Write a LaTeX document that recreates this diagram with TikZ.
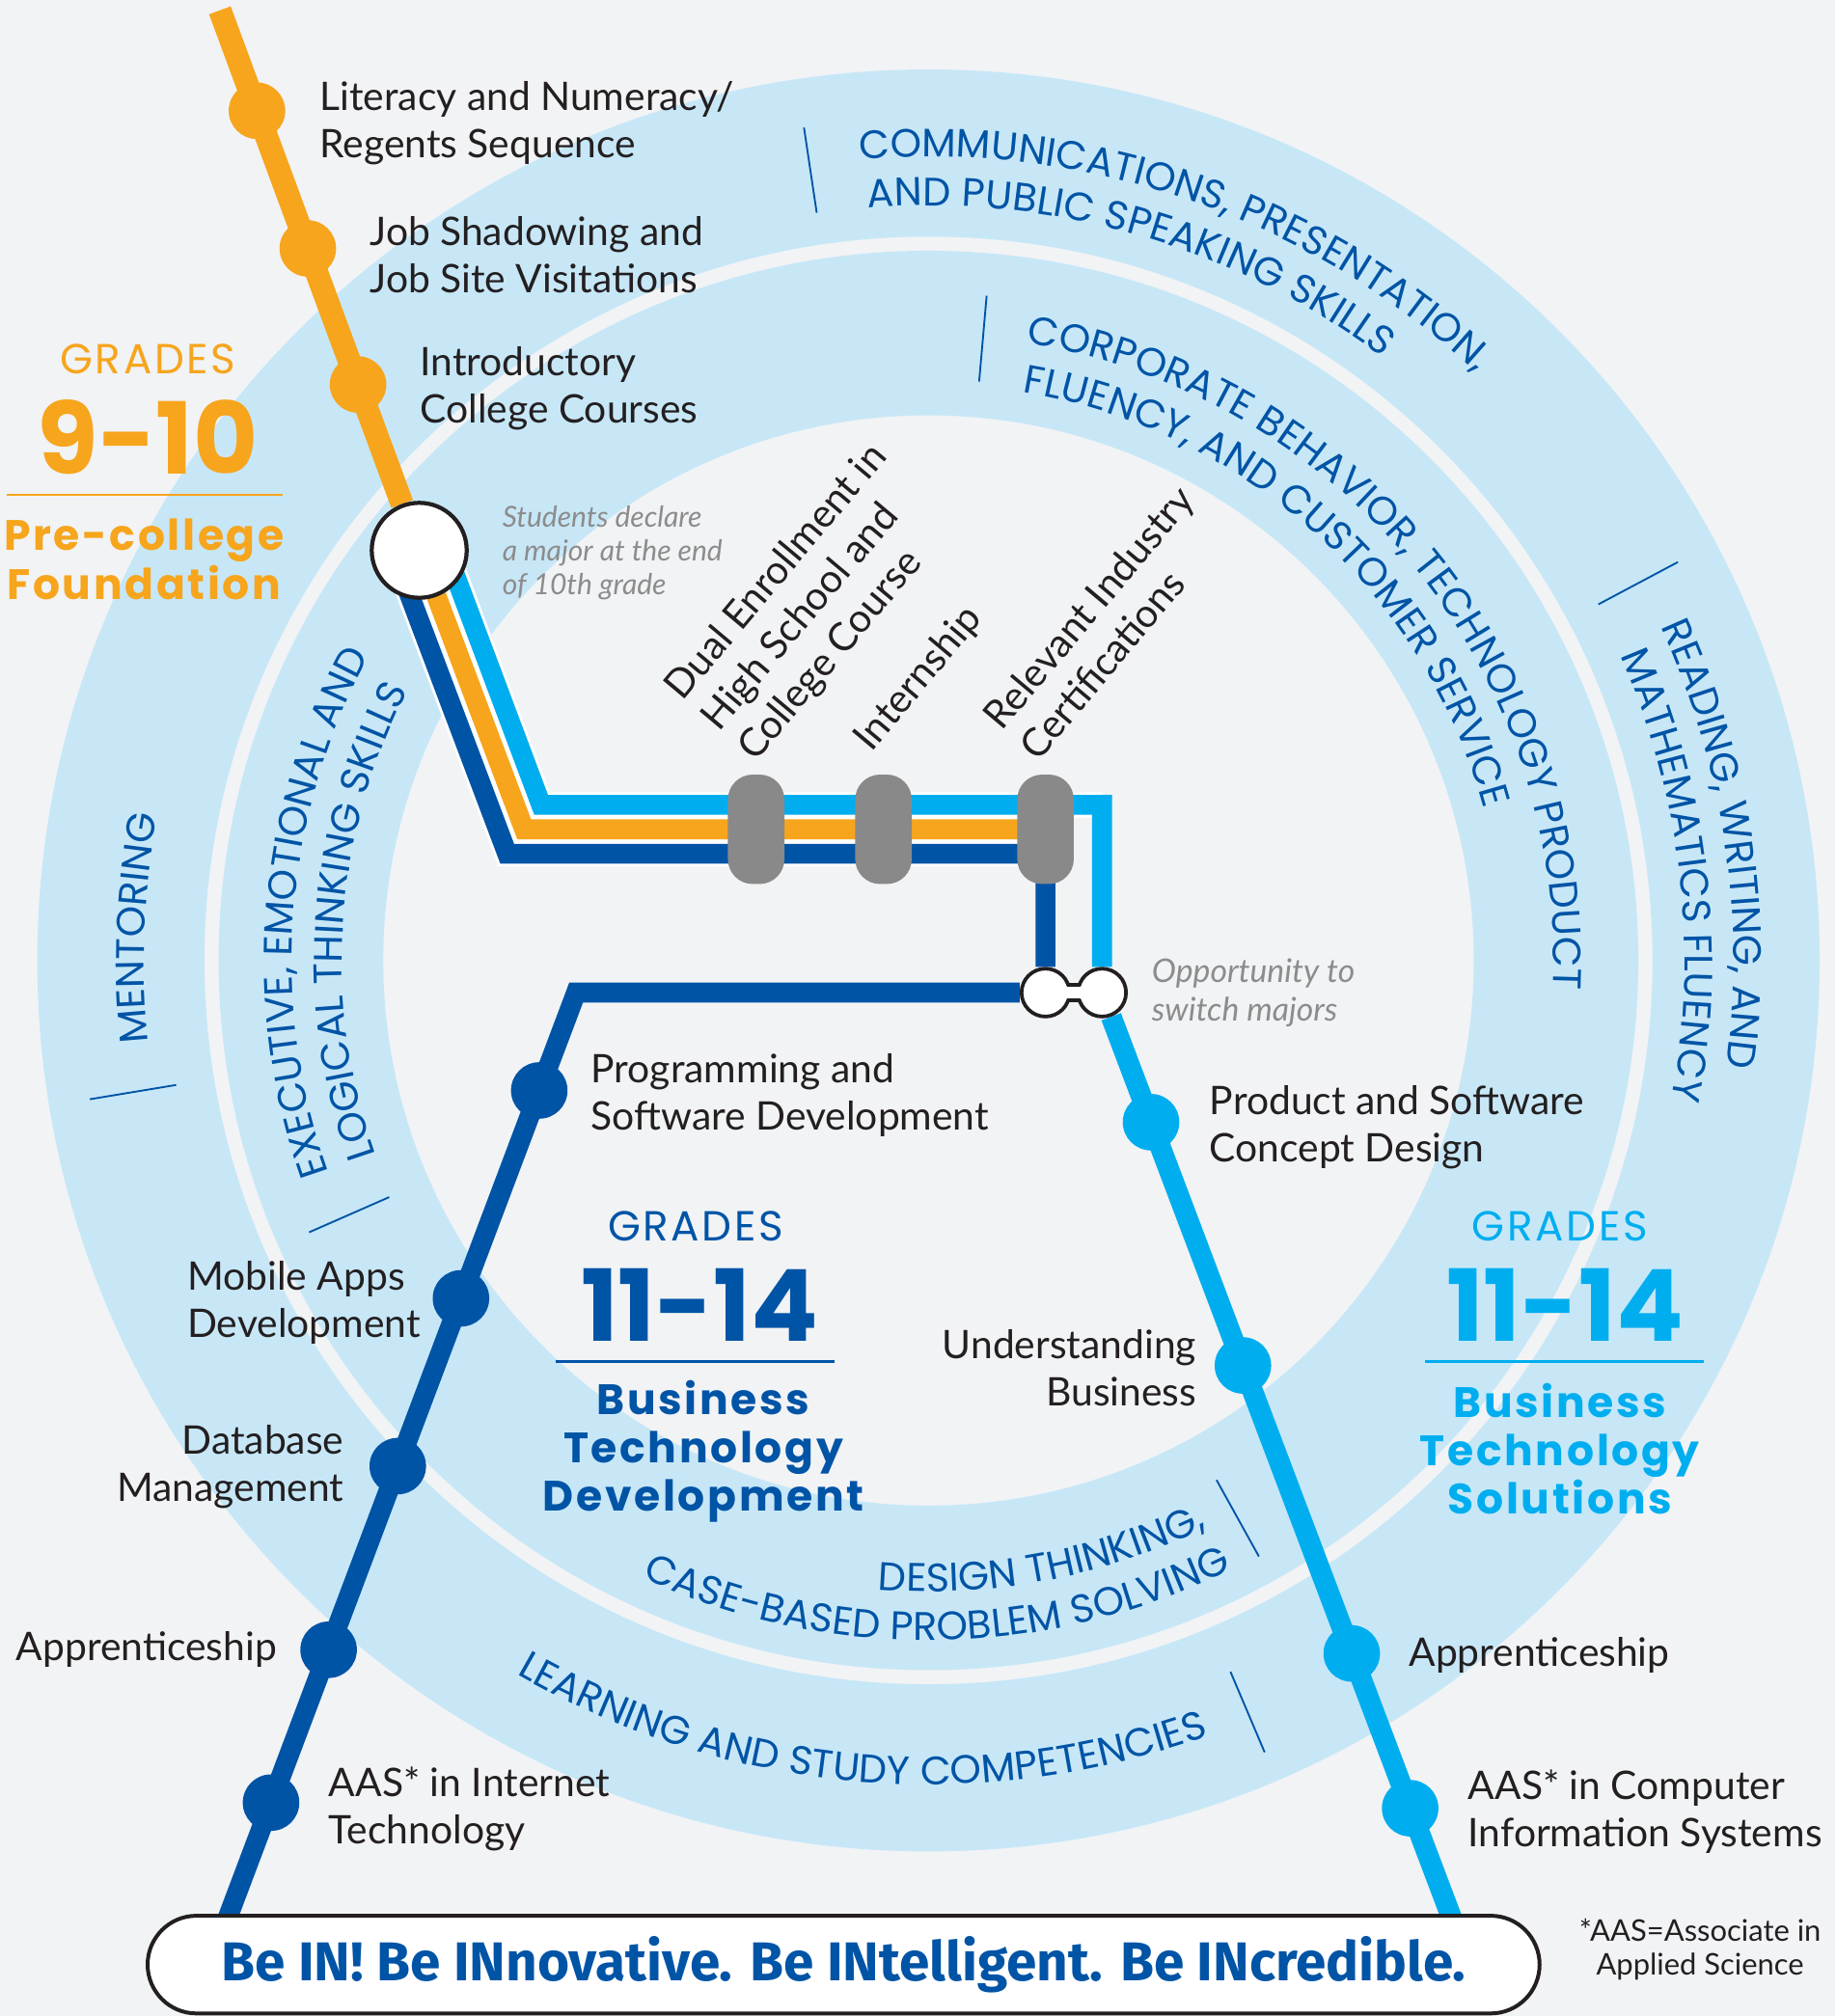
\documentclass[tikz,border=0pt]{standalone}
\usepackage{fontspec}
\setmainfont{Lato}
\newfontfamily\geofont{Poppins}
\newfontfamily\geowide[LetterSpace=6]{Poppins}
\newfontfamily\mottofont{Fira Sans}
\usetikzlibrary{calc,decorations.text}
\pgfdeclarelayer{back}
\pgfdeclarelayer{mid}
\pgfsetlayers{back,mid,main}

\definecolor{BgGray}     {RGB}{241,243,245}
\definecolor{RingBlue}   {RGB}{199,231,247}
\definecolor{DeepBlue}   {RGB}{0,84,166}
\definecolor{SkyBlue}    {RGB}{0,174,239}
\definecolor{TrackOrange}{RGB}{247,165,29}
\definecolor{StopGray}   {RGB}{137,137,137}
\definecolor{InkBlack}   {RGB}{35,31,32}
\definecolor{NoteGray}   {RGB}{140,140,140}

\newcommand\ringfont{\geofont\fontsize{8.8}{9}\selectfont}

\tikzset{
  lbl/.style={font=\fontsize{8.7}{10.5}\selectfont, text=InkBlack,
              inner sep=0pt, align=left},
  note/.style={font=\itshape\fontsize{6.4}{7.5}\selectfont, text=NoteGray,
               inner sep=0pt, align=left},
  stn/.style={circle, inner sep=0pt, minimum size=12.5pt},
  gate/.style={rectangle, rounded corners=5.5pt, fill=StopGray, inner sep=0pt,
               minimum width=12.5pt, minimum height=24.2pt},
  swc/.style={circle, fill=white, draw=InkBlack, line width=0.8pt,
              inner sep=0pt, minimum size=10.6pt},
  ringtxt/.style={decorate, decoration={text along path, text color=DeepBlue,
                  text align=left, text={|\ringfont|#1}}},
  tick/.style={DeepBlue, line width=0.4pt},
  gradehead/.style={font=\geowide\fontsize{9.3}{10}\selectfont, inner sep=0pt},
  gradenum/.style={font=\geofont\bfseries\fontsize{22}{22}\selectfont, inner sep=0pt},
  trackname/.style={font=\geowide\bfseries\fontsize{9.4}{10.7}\selectfont,
                    inner sep=0pt, align=center},
  rail/.style={line width=4.4pt},
  casing/.style={white, line width=5.6pt},
  motto/.style={rectangle, rounded corners=10.8pt, draw=InkBlack, line width=0.85pt,
                fill=white, minimum width=307.8pt, minimum height=21.6pt,
                font=\mottofont\bfseries\fontsize{12.1}{13}\selectfont, text=DeepBlue}
}

\begin{document}
\begin{tikzpicture}[x=0.01cm, y=0.01cm]
  \useasboundingbox (0,0) rectangle (1427,-1568);

  \begin{pgfonlayer}{back}
  \fill[BgGray] (0,0) rectangle (1427,-1568);

  %% Rings
  \coordinate (C) at (722,-747);
  \fill[RingBlue, even odd rule] (C) circle[radius=693] (C) circle[radius=563];
  \fill[RingBlue, even odd rule] (C) circle[radius=552] (C) circle[radius=424];

  %% Ticks between ring texts
  \foreach \a/\ri/\ro in {98.5/588/655, 28/590/660, 189.4/593/661, 293/601/669,
                          85/452/519, 203.7/458/526, 299/462/530}
    \draw[tick] ($(C)+(\a:\ri)$) -- ($(C)+(\a:\ro)$);

  %% Outer ring texts
  \path[ringtxt={COMMUNICATIONS, PRESENTATION,}]
       ($(C)+(94.9:625)$) arc[start angle=94.9, end angle=25, radius=625];
  \path[ringtxt={AND PUBLIC SPEAKING SKILLS}]
       ($(C)+(94.6:587)$) arc[start angle=94.6, end angle=30, radius=587];
  \path[ringtxt={READING, WRITING, AND}]
       ($(C)+(24.5:626)$) arc[start angle=24.5, end angle=-40, radius=626];
  \path[ringtxt={MATHEMATICS FLUENCY}]
       ($(C)+(23.8:588)$) arc[start angle=23.8, end angle=-40, radius=588];
  \path[ringtxt={MENTORING}]
       ($(C)+(186:610)$) arc[start angle=186, end angle=140, radius=610];
  \path[ringtxt={LEARNING AND STUDY COMPETENCIES}]
       ($(C)+(240:641)$) arc[start angle=240, end angle=310, radius=641];

  %% Inner ring texts
  \path[ringtxt={CORPORATE BEHAVIOR, TECHNOLOGY PRODUCT}]
       ($(C)+(81:486)$) arc[start angle=81, end angle=-30, radius=486];
  \path[ringtxt={FLUENCY, AND CUSTOMER SERVICE}]
       ($(C)+(80.6:448)$) arc[start angle=80.6, end angle=-10, radius=448];
  \path[ringtxt={EXECUTIVE, EMOTIONAL AND}]
       ($(C)+(199.5:495)$) arc[start angle=199.5, end angle=130, radius=495];
  \path[ringtxt={LOGICAL THINKING SKILLS}]
       ($(C)+(199.4:456)$) arc[start angle=199.4, end angle=130, radius=456];
  \path[ringtxt={DESIGN THINKING,}]
       ($(C)+(265.4:491)$) arc[start angle=265.4, end angle=320, radius=491];
  \path[ringtxt={CASE-BASED PROBLEM SOLVING}]
       ($(C)+(245.1:529)$) arc[start angle=245.1, end angle=320, radius=529];
  \end{pgfonlayer}

  %% Track points
  \coordinate (orTop) at (171,-8);
  \node[circle, fill=white, draw=InkBlack, line width=0.9pt, inner sep=0pt,
        minimum size=21pt] (declare) at (326,-428) {};
  \coordinate (dkStart) at (308,-435);
  \coordinate (cyStart) at (344,-421);
  \coordinate (dkBend) at (394.4,-664);
  \coordinate (orBend) at (407.6,-645);
  \coordinate (cyBend) at (420.8,-626);
  \coordinate (dkCorner) at (813,-664);
  \coordinate (orEnd) at (813,-645);
  \coordinate (cyCorner) at (857,-626);
  \node[swc] (swL) at (813,-772) {};
  \node[swc] (swR) at (857,-772) {};
  \coordinate (dkB) at (448,-772);
  \coordinate (dkEnd) at (175,-1497);
  \coordinate (cyEnd) at (1130.8,-1497);

  %% Rails
  \begin{pgfonlayer}{mid}
  \draw[rail, TrackOrange, line width=5.1pt] (orTop) -- (declare);
  \draw[casing] (dkStart) -- (dkBend) -- (dkCorner);
  \draw[casing] (declare.center) -- (orBend) -- (orEnd);
  \draw[casing] (cyStart) -- (cyBend) -- (cyCorner);
  \draw[rail, DeepBlue] (dkStart) -- (dkBend) -- (dkCorner) -- (swL);
  \draw[rail, TrackOrange] (declare.center) -- (orBend) -- (orEnd);
  \draw[rail, SkyBlue] (cyStart) -- (cyBend) -- (cyCorner) -- (swR);
  \draw[rail, DeepBlue] (swL) -- (dkB) -- (dkEnd);
  \draw[rail, SkyBlue, line width=4.6pt] (swR) -- (cyEnd);
  \end{pgfonlayer}

  %% Switch neck
  \fill[white] (826,-766.5) rectangle (844,-777.5);
  \draw[InkBlack, line width=0.8pt] (830,-766) -- (840,-766) (830,-778) -- (840,-778);

  %% Orange stations
  \node[stn, fill=TrackOrange] (lit)   at ($(orTop)!0.186!(declare)$) {};
  \node[stn, fill=TrackOrange] (job)   at ($(orTop)!0.441!(declare)$) {};
  \node[stn, fill=TrackOrange] (intro) at ($(orTop)!0.693!(declare)$) {};

  %% Gates
  \node[gate] (dual) at (588,-645) {};
  \node[gate] (intern) at (687,-645) {};
  \node[gate] (cert) at (813,-645) {};

  %% Development stations
  \node[stn, fill=DeepBlue] (prog) at ($(dkB)!0.105!(dkEnd)$) {};
  \node[stn, fill=DeepBlue] (mobile) at ($(dkB)!0.328!(dkEnd)$) {};
  \node[stn, fill=DeepBlue] (dbm) at ($(dkB)!0.508!(dkEnd)$) {};
  \node[stn, fill=DeepBlue] (appL) at ($(dkB)!0.705!(dkEnd)$) {};
  \node[stn, fill=DeepBlue] (aasL) at ($(dkB)!0.869!(dkEnd)$) {};

  %% Solutions stations
  \node[stn, fill=SkyBlue] (prod) at ($(swR)!0.139!(cyEnd)$) {};
  \node[stn, fill=SkyBlue] (ubiz) at ($(swR)!0.400!(cyEnd)$) {};
  \node[stn, fill=SkyBlue] (appR) at ($(swR)!0.709!(cyEnd)$) {};
  \node[stn, fill=SkyBlue] (aasR) at ($(swR)!0.875!(cyEnd)$) {};

  %% Labels
  \node[lbl, anchor=west] (litTxt) at (248,-96) {Literacy and Numeracy/\\Regents Sequence};
  \node[lbl, anchor=west] (jobTxt) at (287,-198) {Job Shadowing and\\Job Site Visitations};
  \node[lbl, anchor=west] (introTxt) at (326,-302) {Introductory\\College Courses};
  \node[note, anchor=west] (declTxt) at (390,-430) {Students declare\\a major at the end\\of 10th grade};
  \node[lbl, rotate=50, anchor=south west] (dualTxt) at (592,-598)
       {Dual Enrollment in\\High School and\\College Course};
  \node[lbl, rotate=50, anchor=south west] (internTxt) at (682,-590) {Internship};
  \node[lbl, rotate=50, anchor=south west] (certTxt) at (808,-594)
       {Relevant Industry\\Certifications};
  \node[note, font=\itshape\fontsize{7.2}{8.5}\selectfont, anchor=west] (swTxt)
       at (895,-772) {Opportunity to\\switch majors};
  \node[lbl, anchor=west] (progTxt) at (459,-852) {Programming and\\Software Development};
  \node[lbl, anchor=west] (prodTxt) at (940,-877) {Product and Software\\Concept Design};
  \node[lbl, anchor=west] (mobileTxt) at (145,-1013) {Mobile Apps\\Development};
  \node[lbl, anchor=east, align=right] (dbmTxt) at (268,-1141) {Database\\Management};
  \node[lbl, anchor=east] (appLTxt) at (216,-1283) {Apprenticeship};
  \node[lbl, anchor=west] (aasLTxt) at (255,-1407) {AAS* in Internet\\Technology};
  \node[lbl, anchor=east, align=right] (ubizTxt) at (931,-1064) {Understanding\\Business};
  \node[lbl, anchor=west] (appRTxt) at (1095,-1287) {Apprenticeship};
  \node[lbl, anchor=west] (aasRTxt) at (1141,-1409) {AAS* in Computer\\Information Systems};
  \node[lbl, font=\fontsize{6.6}{7.4}\selectfont, align=center] (aasNote)
       at (1322,-1516) {*AAS=Associate in\\Applied Science};

  %% Grades 9-10
  \node[gradehead, text=TrackOrange] (g910) at (115,-279) {GRADES};
  \node[gradenum, text=TrackOrange] (n910) at (115,-340) {9-10};
  \draw[TrackOrange, line width=0.5pt] (5,-385) -- (220,-385);
  \node[trackname, text=TrackOrange] (pre) at (112,-435) {Pre-college\\Foundation};

  %% Grades 11-14 development
  \node[gradehead, text=DeepBlue] (gDev) at (541,-954) {GRADES};
  \node[gradenum, text=DeepBlue] (nDev) at (544,-1015) {11-14};
  \draw[DeepBlue, line width=0.5pt] (432,-1059) -- (649,-1059);
  \node[trackname, text=DeepBlue] (btd) at (547,-1129) {Business\\Technology\\Development};

  %% Grades 11-14 solutions
  \node[gradehead, text=SkyBlue] (gSol) at (1213,-954) {GRADES};
  \node[gradenum, text=SkyBlue] (nSol) at (1217,-1015) {11-14};
  \draw[SkyBlue, line width=0.5pt] (1108,-1059) -- (1325,-1059);
  \node[trackname, text=SkyBlue] (bts) at (1213,-1127) {Business\\Technology\\Solutions};

  %% Banner
  \node[motto] (banner) at (656,-1528) {Be IN! Be INnovative. Be INtelligent. Be INcredible.};
\end{tikzpicture}
\end{document}
